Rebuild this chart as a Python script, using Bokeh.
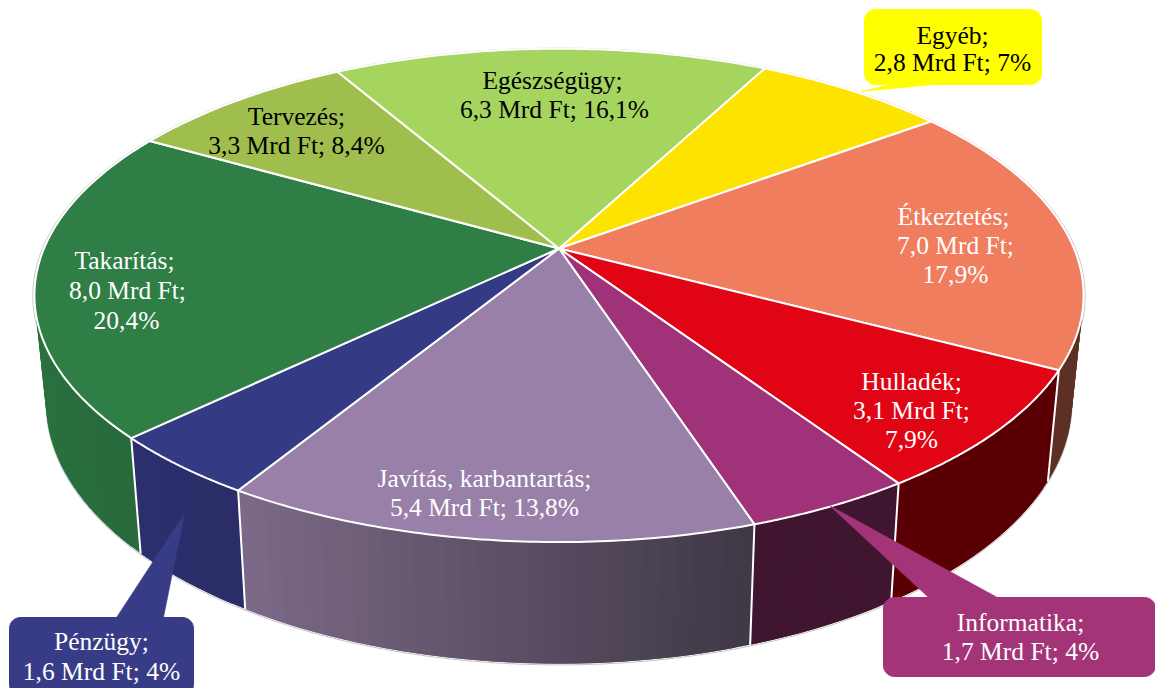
import numpy as np
from bokeh.plotting import figure
from bokeh.models import Range1d
from bokeh.core.properties import value
from bokeh.embed import file_html
from bokeh.resources import INLINE

# ---- chart data (clockwise, starting at the Egyéb slice)
categories = ["Egyéb", "Étkeztetés", "Hulladék", "Informatika", "Javítás, karbantartás",
              "Pénzügy", "Takarítás", "Tervezés", "Egészségügy"]
values_mrd = [2.8, 7.0, 3.1, 1.7, 5.4, 1.6, 8.0, 3.3, 6.3]
percents = ["7%", "17,9%", "7,9%", "4%", "13,8%", "4%", "20,4%", "8,4%", "16,1%"]
value_texts = ["2,8", "7,0", "3,1", "1,7", "5,4", "1,6", "8,0", "3,3", "6,3"]

# ---- styles
top_colors = ["#fde400", "#f17d5f", "#e00414", "#9f3278", "#9880a8", "#353a85", "#2e7e45", "#9fbe4d", "#a5d55f"]
wall_left = ["#fde400", "#5e3025", "#5a0005", "#40152f", "#7c6a88", "#2d2f6d", "#2a703e", "#9fbe4d", "#a5d55f"]
wall_right = ["#fde400", "#5e3025", "#5a0005", "#40152f", "#3f3845", "#2b2d68", "#27693a", "#9fbe4d", "#a5d55f"]
text_colors = ["black", "white", "white", "white", "white", "white", "white", "black", "black"]

START_DEG = 27.8
CX, CY = 558.5, 248.0
PERSP, A, D = 0.19, 237.8, 515.0
SX, SY, DROP = 0.978, 1.06, 104.0


def rim(theta_deg, r=1.0):
    t = np.radians(theta_deg)
    u, v = r * np.sin(t), r * np.cos(t)
    w = 1 + PERSP * v
    return D * u / w, -A * v / w


def top_xy(theta_deg, r=1.0):
    x, y = rim(theta_deg, r)
    return CX + x, CY + y


def bottom_xy(theta_deg):
    x, y = rim(theta_deg)
    return CX + SX * x, CY + DROP + SY * y


p = figure(width=1155, height=688, x_range=Range1d(0, 1155), y_range=Range1d(688, 0),
           output_backend="svg", toolbar_location=None, min_border=0)
p.axis.visible = False
p.grid.visible = False
p.outline_line_color = None
p.background_fill_color = "white"

shares = np.array(values_mrd) / sum(values_mrd) * 360
edges = START_DEG + np.concatenate([[0], np.cumsum(shares)])

# silhouette hairlines
all_t = np.linspace(0, 360, 721)
xb, yb = bottom_xy(all_t)
p.line(xb, yb + 1.2, line_color="#c4c4c4", line_width=1)
xt, yt = top_xy(all_t, 1.003)
p.line(xt, yt, line_color="#c4c4c4", line_width=1)


def mix(c1, c2, f):
    a = [int(c1[i:i + 2], 16) for i in (1, 3, 5)]
    b = [int(c2[i:i + 2], 16) for i in (1, 3, 5)]
    return "#%02x%02x%02x" % tuple(int(round(a[i] + (b[i] - a[i]) * f)) for i in range(3))


# side walls, only where they face the viewer; each strip overlaps the next to hide seams
wall_xs, wall_ys, wall_cols = [], [], []
for i in range(len(values_mrd)):
    ts = np.arange(edges[i], edges[i + 1], 1.5)
    ts = np.append(ts, edges[i + 1])
    x_all = top_xy(ts)[0]
    lo, hi = x_all.min(), x_all.max()
    for k in range(len(ts) - 1):
        mid = ((ts[k] + ts[k + 1]) / 2) % 360
        if not (80 < mid < 285):
            continue
        seg = np.array([ts[k], min(ts[k + 1] + 1.5, edges[i + 1])])
        xa, ya = top_xy(seg)
        xc, yc = bottom_xy(seg)
        wall_xs.append([xa[0], xa[1], xc[1], xc[0]])
        wall_ys.append([ya[0], ya[1], yc[1], yc[0]])
        f = (top_xy(mid)[0] - lo) / (hi - lo)
        wall_cols.append(mix(wall_left[i], wall_right[i], f))
p.patches(wall_xs, wall_ys, fill_color=wall_cols, line_color=None)

# white separators on the walls
for e in edges:
    m = e % 360
    if 90 < m < 280:
        xa, ya = top_xy(e)
        xc, yc = bottom_xy(e)
        p.line([xa, xc], [ya, yc], line_color="white", line_width=2)

# top face
for i in range(len(values_mrd)):
    ts = np.linspace(edges[i], edges[i + 1], 80)
    xa, ya = top_xy(ts)
    p.patch(np.r_[CX, xa], np.r_[CY, ya], fill_color=top_colors[i], line_color="white", line_width=2,
            line_join="round")


def rounded(x0, y0, x1, y1, r):
    a = np.radians(np.arange(0, 91, 10))
    xs = np.r_[x1 - r + r * np.sin(a), x1 - r + r * np.cos(a), x0 + r - r * np.sin(a), x0 + r - r * np.cos(a)]
    ys = np.r_[y0 + r - r * np.cos(a), y1 - r + r * np.sin(a), y1 - r + r * np.cos(a), y0 + r - r * np.sin(a)]
    return xs, ys


callouts = [
    dict(box=(864, 9, 1041, 84), tip=(860, 91), base=(890, 935), edge=84, color="#ffff00"),
    dict(box=(9, 617, 193, 695), tip=(184, 513), base=(116, 163), edge=617, color="#383c87"),
    dict(box=(883, 597, 1155, 676), tip=(829, 505), base=(928, 997), edge=597, color="#a43478"),
]
for c in callouts:
    bx, by = rounded(*c["box"], 11)
    p.patch(bx, by, fill_color=c["color"], line_color=c["color"], line_width=1)
    p.patch([c["tip"][0], c["base"][0], c["base"][1]], [c["tip"][1], c["edge"], c["edge"]],
            fill_color=c["color"], line_color=c["color"], line_width=0.5)

label_lines = {
    0: [f"{categories[0]};", f"{value_texts[0]} Mrd Ft; {percents[0]}"],
    1: [f"{categories[1]};", f"{value_texts[1]} Mrd Ft;", percents[1]],
    2: [f"{categories[2]};", f"{value_texts[2]} Mrd Ft;", percents[2]],
    3: [f"{categories[3]};", f"{value_texts[3]} Mrd Ft; {percents[3]}"],
    4: [f"{categories[4]};", f"{value_texts[4]} Mrd Ft; {percents[4]}"],
    5: [f"{categories[5]};", f"{value_texts[5]} Mrd Ft; {percents[5]}"],
    6: [f"{categories[6]};", f"{value_texts[6]} Mrd Ft;", percents[6]],
    7: [f"{categories[7]};", f"{value_texts[7]} Mrd Ft; {percents[7]}"],
    8: [f"{categories[8]};", f"{value_texts[8]} Mrd Ft; {percents[8]}"],
}
label_pos = {
    0: [(952, 35), (952, 62)],
    1: [(953, 216), (955, 245), (955, 274)],
    2: [(911, 381), (911, 410), (911, 439)],
    3: [(1020, 622), (1020, 651)],
    4: [(484, 478), (484, 507)],
    5: [(101, 641), (101, 671)],
    6: [(124, 260), (127, 290), (126, 320)],
    7: [(296, 116), (296, 145)],
    8: [(552, 80), (554, 109)],
}
for i, lines in label_lines.items():
    for line, (x, y) in zip(lines, label_pos[i]):
        p.text([x], [y], text=[line], text_font=value("Liberation Serif"), text_font_size="25.5px",
               text_color=text_colors[i], text_align="center", text_baseline="middle")

open("out.html", "w").write(file_html(p, INLINE))
